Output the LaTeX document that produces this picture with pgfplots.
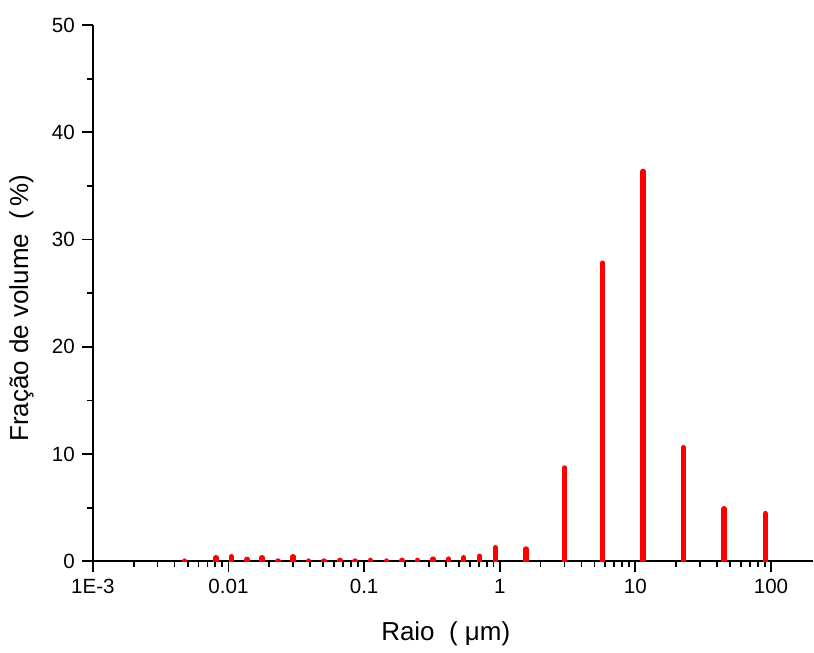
\documentclass[border=0pt]{standalone}
\usepackage{fontspec}
\setmainfont{Liberation Sans}
\usepackage{pgfplots}
\usepackage{pgfplotstable}
\pgfplotsset{compat=1.18}

% raio (um) vs fracao de volume (%)
\pgfplotstableread{
r v
0.00475 0.02
0.00807 0.34
0.0105 0.43
0.0137 0.19
0.0177 0.34
0.0232 0.03
0.0299 0.43
0.039 0.02
0.0506 0.03
0.0662 0.09
0.0859 0.03
0.111 0.09
0.146 0.03
0.190 0.09
0.247 0.09
0.323 0.21
0.419 0.21
0.543 0.34
0.710 0.47
0.929 1.27
1.56 1.15
3.01 8.7
5.73 27.8
11.4 36.35
22.6 10.6
45.1 4.9
90.7 4.45
}\volume

\begin{document}
\begin{tikzpicture}
\begin{axis}[
  name=ax,
  xmode=log,
  scale only axis,
  width=360.5pt, height=268.5pt,
  xmin=1e-3, xmax=204, ymin=0, ymax=50,
  axis x line*=bottom, axis y line*=left,
  axis line style={black, line width=1pt},
  tick align=outside,
  major tick length=5.5pt, minor tick length=2.7pt,
  tick style={black, line width=0.9pt},
  xtick={0.001,0.01,0.1,1,10,100},
  xticklabels={1E-3,0.01,0.1,1,10,100},
  ytick={0,10,...,50}, minor ytick={5,15,...,45},
  /pgf/number format/assume math mode=true,
  tick label style={font=\fontsize{10.3}{12}\selectfont},
  label style={font=\fontsize{13}{15}\selectfont},
  xlabel={Raio\ \ ( μm)},
  ylabel={Fração de volume\ \ (\,\%)},
  xlabel style={at={(axis description cs:0.49,-0.1345)}, anchor=center},
  ylabel style={at={(axis description cs:-0.0992,0.472)}, anchor=center},
]
\addplot[ycomb, red, line width=2.7pt, line cap=round, mark=none] table {\volume};
\end{axis}
\path ([shift={(-46.5pt,-43pt)}]ax.south west) rectangle ([shift={(0pt,12.5pt)}]ax.north east);
\end{tikzpicture}
\end{document}
